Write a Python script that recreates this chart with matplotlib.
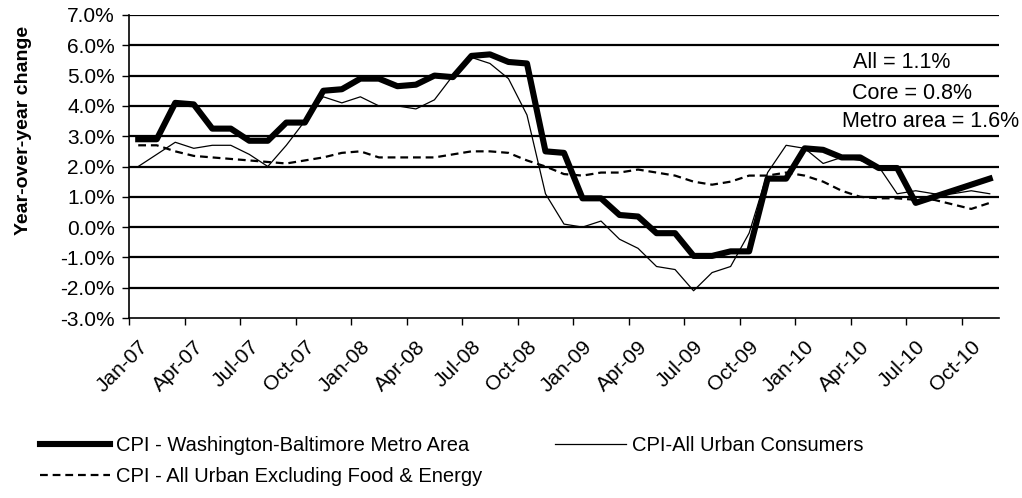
import numpy as np
import pandas as pd
import matplotlib
matplotlib.use("Agg")
import matplotlib.pyplot as plt
from matplotlib.ticker import FuncFormatter

plt.rcParams['font.family'] = ['Liberation Sans', 'DejaVu Sans']

# monthly, Jan-07 .. Nov-10 (year-over-year % change)
months = pd.date_range('2007-01-01', periods=47, freq='MS')

metro_area = [2.9, 2.9, 4.1, 4.05, 3.25, 3.25, 2.85, 2.85, 3.45, 3.45, 4.5, 4.55,
              4.9, 4.9, 4.65, 4.7, 5.0, 4.95, 5.65, 5.7, 5.45, 5.4, 2.5, 2.45,
              0.95, 0.95, 0.4, 0.35, -0.2, -0.2, -0.95, -0.95, -0.8, -0.8, 1.6, 1.6,
              2.6, 2.55, 2.3, 2.3, 1.95, 1.95, 0.8, 1.0, 1.2, 1.4, 1.6]

all_urban = [2.0, 2.4, 2.8, 2.6, 2.7, 2.7, 2.4, 2.0, 2.7, 3.5, 4.3, 4.1,
             4.3, 4.0, 4.0, 3.9, 4.2, 5.0, 5.6, 5.4, 4.9, 3.7, 1.1, 0.1,
             0.0, 0.2, -0.4, -0.7, -1.3, -1.4, -2.1, -1.5, -1.3, -0.2, 1.8, 2.7,
             2.6, 2.1, 2.3, 2.2, 2.0, 1.1, 1.2, 1.1, 1.1, 1.2, 1.1]

core = [2.7, 2.7, 2.5, 2.35, 2.3, 2.25, 2.2, 2.15, 2.1, 2.2, 2.3, 2.45,
        2.5, 2.3, 2.3, 2.3, 2.3, 2.4, 2.5, 2.5, 2.45, 2.2, 2.0, 1.75,
        1.7, 1.8, 1.8, 1.9, 1.8, 1.7, 1.5, 1.4, 1.5, 1.7, 1.7, 1.8,
        1.7, 1.5, 1.2, 1.0, 0.95, 0.95, 0.9, 0.9, 0.75, 0.6, 0.8]

month_labels = [m.strftime('%b-%y') for m in months]
notes = ['All = 1.1%', 'Core = 0.8%', 'Metro area = 1.6%']

fig = plt.figure(figsize=(10.22, 4.98), dpi=100)
ax = fig.add_axes([0.1262, 0.3614, 0.8513, 0.6085])

x = np.arange(len(months))

for v in range(-2, 8):
    ax.axhline(v, color='black', lw=1.6, zorder=1)

ax.plot(x, core, color='black', lw=1.6, ls=(0, (3.5, 2.2)), zorder=3,
        label='CPI - All Urban Excluding Food & Energy')
ax.plot(x, all_urban, color='black', lw=0.9, zorder=3,
        label='CPI-All Urban Consumers')
ax.plot(x, metro_area, color='black', lw=4.4, zorder=4,
        label='CPI - Washington-Baltimore Metro Area')

ax.set_xlim(-0.5, len(months) - 0.5)
ax.set_ylim(-3, 7)
ax.set_yticks(range(-3, 8))
ax.yaxis.set_major_formatter(FuncFormatter(lambda v, p: f'{v:.1f}%'))
ax.tick_params(axis='y', labelsize=15, length=5, width=1, direction='out', pad=5)

ax.set_xticks(x[::3])
ax.set_xticklabels(month_labels[::3], rotation=45, ha='right', va='top',
                   rotation_mode='anchor', fontsize=15)
ax.tick_params(axis='x', which='major', length=0, pad=14)
ax.set_xticks(np.arange(-0.5, len(months) - 0.5, 3), minor=True)
ax.tick_params(axis='x', which='minor', length=5, width=1, direction='out')

for s in ['top', 'right']:
    ax.spines[s].set_visible(False)
ax.spines['left'].set_linewidth(1.2)
ax.spines['bottom'].set_linewidth(1.2)

ax.set_ylabel('Year-over-year change', fontsize=14, fontweight='bold')
ax.yaxis.set_label_coords(-0.111, 0.62)

ax.text(0.832, 0.842, notes[0], transform=ax.transAxes, fontsize=15.5, va='center')
ax.text(0.831, 0.740, notes[1], transform=ax.transAxes, fontsize=15.5, va='center')
ax.text(0.819, 0.648, notes[2], transform=ax.transAxes, fontsize=15.5, va='center')

h = {l.get_label(): l for l in ax.get_lines()}
order = ['CPI - Washington-Baltimore Metro Area',
         'CPI - All Urban Excluding Food & Energy',
         'CPI-All Urban Consumers']
fig.legend([h[k] for k in order], order, loc='upper left',
           bbox_to_anchor=(0.039, 0.125), ncol=2, frameon=False, fontsize=14.5,
           handlelength=3.5, handletextpad=0.3, columnspacing=3.6,
           labelspacing=0.6, borderpad=0, borderaxespad=0)

fig.savefig('out.png', dpi=100)
